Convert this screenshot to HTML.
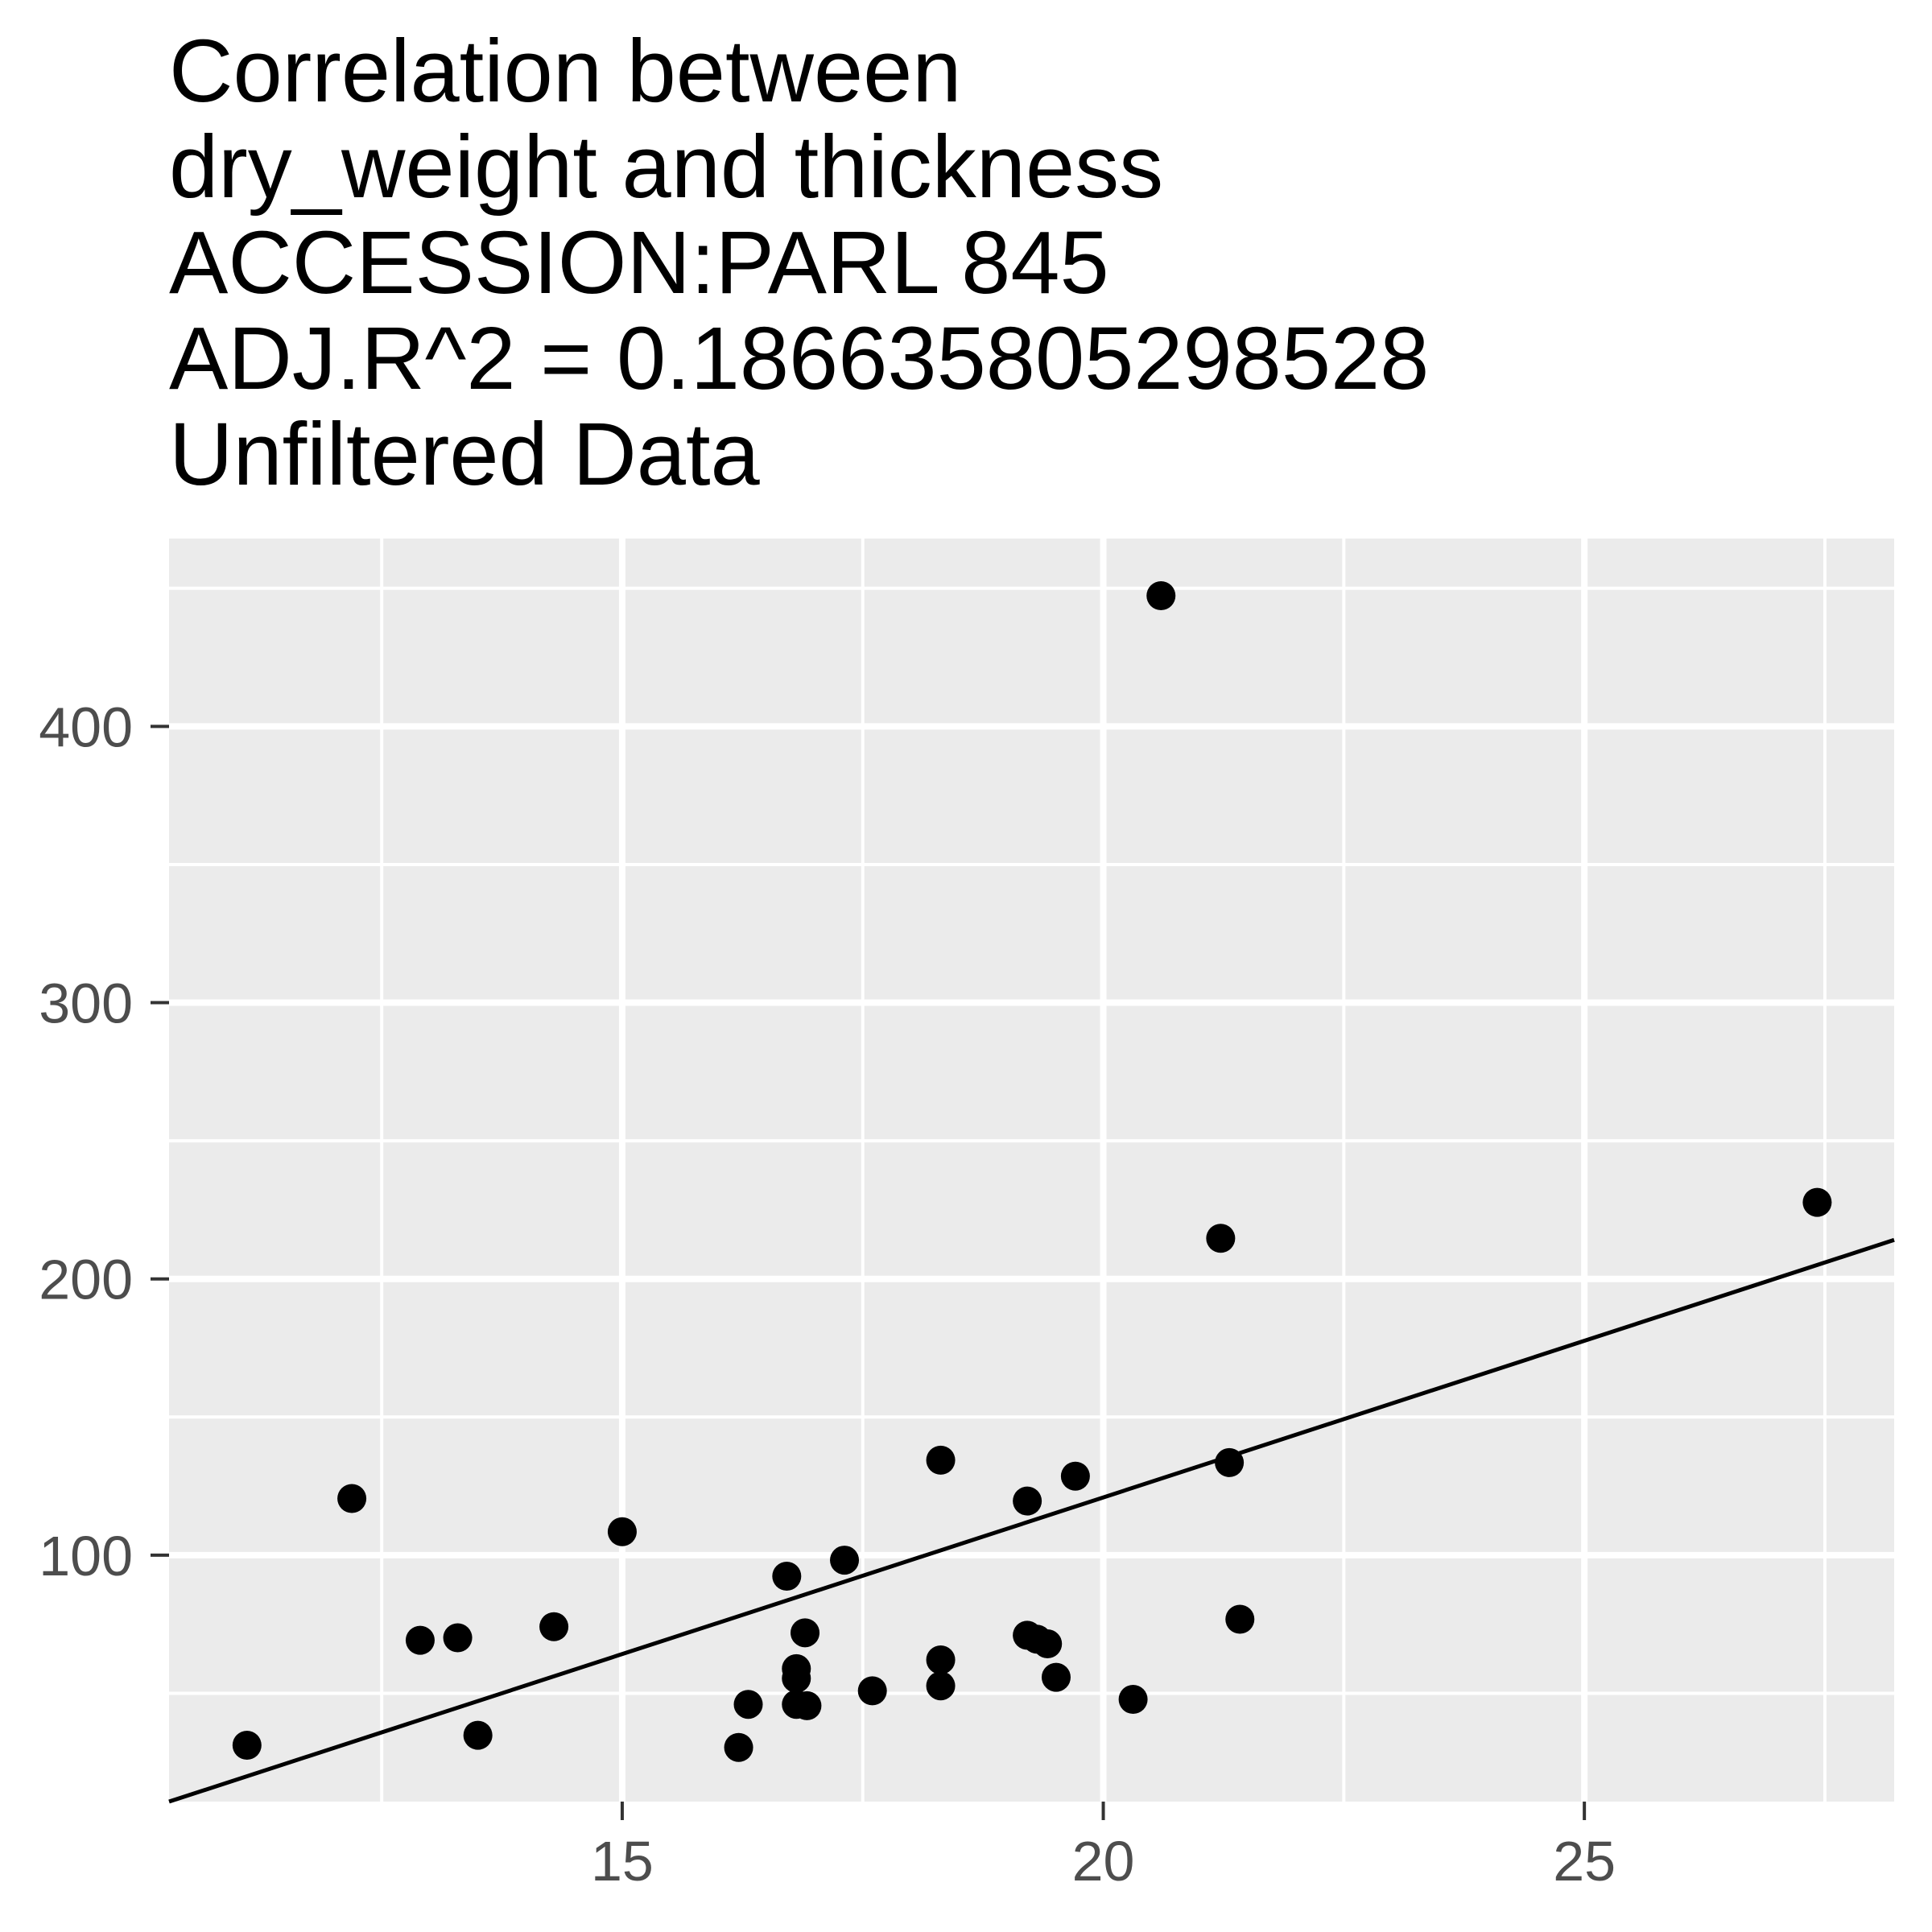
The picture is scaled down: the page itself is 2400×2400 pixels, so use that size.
<!DOCTYPE html>
<html><head><meta charset="utf-8"><style>
html,body{margin:0;padding:0;background:#fff;}
svg{display:block;}
</style></head><body>
<svg id="chart" width="2400" height="2400" xmlns="http://www.w3.org/2000/svg" font-family="Liberation Sans, Arial, sans-serif">
<g font-size="110" fill="#000">
<text x="210" y="126">Correlation between</text>
<text x="210" y="245">dry_weight and thickness</text>
<text x="210" y="364">ACCESSION:PARL 845</text>
<text x="210" y="483">ADJ.R^2 = 0.186635805298528</text>
<text x="210" y="602">Unfiltered Data</text>
</g>
<rect x="210" y="669" width="2143" height="1569" fill="#ebebeb"/>
<g id="grid"></g><g id="fit"></g><g id="points"></g><g id="axes"></g>
</svg>
<script>
const thickness=[11.10,12.19,12.90,13.29,13.50,14.29,15.00,16.21,16.31,16.71,16.81,16.81,16.81,16.92,16.90,17.31,17.60,18.31,18.31,18.31,19.21,19.21,19.31,19.42,19.51,19.71,20.31,20.60,21.22,21.31,21.42,27.42];
const dryWeight=[31.2,120.5,69.2,70.1,34.8,74.1,108.5,30.4,46.0,92.4,58.9,55.4,46.0,45.5,71.9,98.2,50.9,134.4,62.1,52.7,119.6,71.0,69.6,67.9,55.8,128.6,47.8,447.3,214.7,133.5,76.8,227.7];
const fitCoef=[-105.9,11.34];
const xTicks=[15,20,25];
const xMinor=[12.5,17.5,22.5,27.5];
const yTicks=[100,200,300,400];
const yMinor=[50,150,250,350,450];
const xDomain=[10.29,28.22], yDomain=[10.8,468];
const L=210,R=2353,T=669,B=2238;
const sx=v=>L+(v-xDomain[0])/(xDomain[1]-xDomain[0])*(R-L);
const sy=v=>B-(v-yDomain[0])/(yDomain[1]-yDomain[0])*(B-T);
const NS='http://www.w3.org/2000/svg';
function mk(t,a,p){const e=document.createElementNS(NS,t);for(const k in a)e.setAttribute(k,a[k]);p.appendChild(e);return e;}
const grid=document.getElementById('grid'),axes=document.getElementById('axes');
yMinor.forEach(v=>{const e=mk('line',{x1:L,x2:R,y1:sy(v),y2:sy(v),stroke:'#fff','stroke-width':4},grid);

});
xMinor.forEach(v=>{const e=mk('line',{x1:sx(v),x2:sx(v),y1:T,y2:B,stroke:'#fff','stroke-width':4},grid);

});
yTicks.forEach(v=>{const e=mk('line',{x1:L,x2:R,y1:sy(v),y2:sy(v),stroke:'#fff','stroke-width':8},grid);


const t=mk('line',{x1:L-23,x2:L,y1:sy(v),y2:sy(v),stroke:'#333','stroke-width':4},axes);


const l=mk('text',{x:L-45,y:sy(v)+25,'text-anchor':'end','font-size':70,fill:'#4d4d4d'},axes);l.textContent=v;

});
xTicks.forEach(v=>{const e=mk('line',{x1:sx(v),x2:sx(v),y1:T,y2:B,stroke:'#fff','stroke-width':8},grid);


const t=mk('line',{x1:sx(v),x2:sx(v),y1:B,y2:B+23,stroke:'#333','stroke-width':4},axes);


const l=mk('text',{x:sx(v),y:B+98,'text-anchor':'middle','font-size':70,fill:'#4d4d4d'},axes);l.textContent=v;

});
const fx0=xDomain[0],fx1=xDomain[1];
const fl=mk('line',{x1:sx(fx0),y1:sy(fitCoef[0]+fitCoef[1]*fx0),x2:sx(fx1),y2:sy(fitCoef[0]+fitCoef[1]*fx1),stroke:'#000','stroke-width':5},document.getElementById('fit'));


const pg=document.getElementById('points');
thickness.forEach((x,i)=>{const c=mk('circle',{cx:sx(x),cy:sy(dryWeight[i]),r:18,fill:'#000'},pg);

});
</script>
</body></html>
